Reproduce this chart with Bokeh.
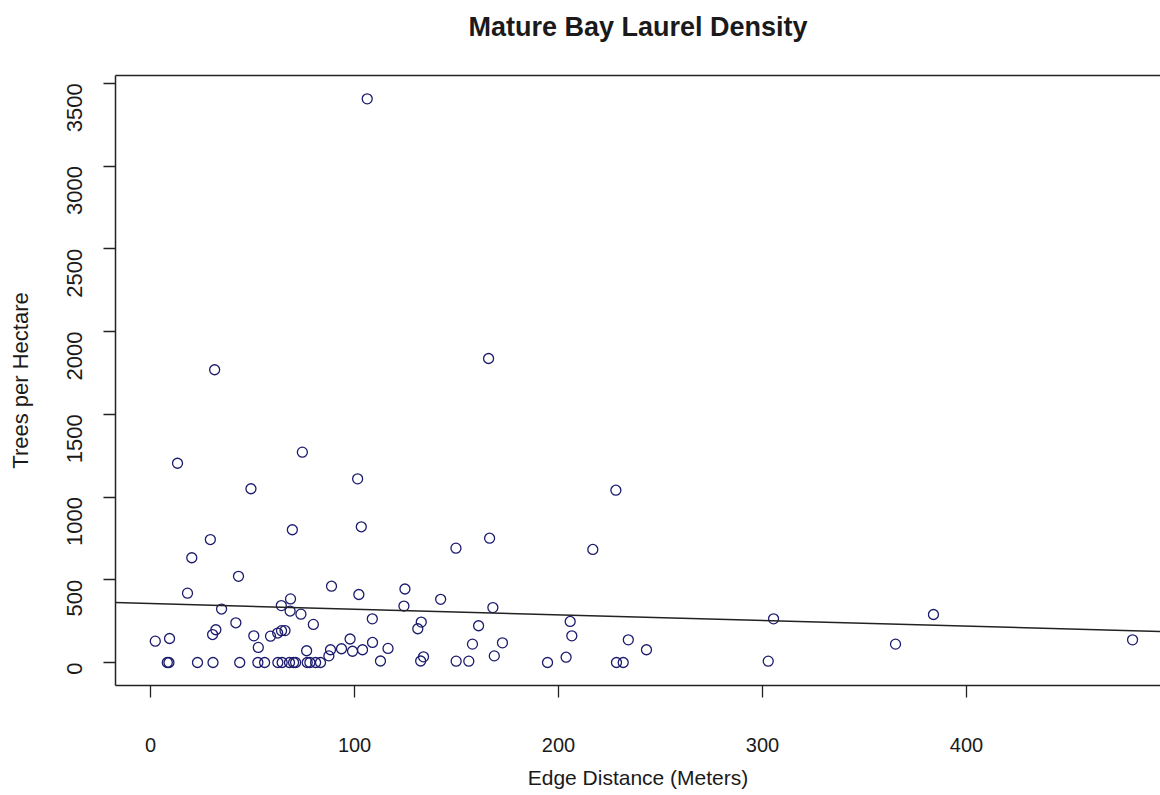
from bokeh.plotting import figure
from bokeh.models import LinearAxis, FixedTicker, Slope, Range1d, ColumnDataSource
from bokeh.embed import file_html
from bokeh.resources import INLINE
import math

# Edge distance (m) and mature bay laurel density (trees / ha)
edge_distance = [
    106.2, 165.7, 31.4, 74.4, 13.2, 101.5, 49.2, 228.1, 69.5, 103.3,
    29.3, 166.2, 149.7, 216.8, 20.2, 43.1, 88.7, 18.1, 124.7, 102.1,
    142.2, 68.6, 383.8, 34.8, 64.1, 124.2, 167.8, 305.4, 68.4, 73.7,
    108.7, 205.7, 79.8, 41.8, 160.8, 132.7, 131.0, 32.0, 30.4, 50.6,
    58.8, 62.3, 64.2, 65.9, 206.5, 2.3, 9.3, 52.8, 97.8, 108.8,
    157.8, 172.5, 365.2, 481.4, 234.2, 243.1, 93.6, 99.0, 103.9, 116.4,
    76.5, 88.2, 87.4, 133.8, 168.5, 203.7, 112.7, 132.4, 149.8, 156.0,
    194.6, 228.4, 231.7, 302.8,
    8.2, 9.0, 23.0, 30.6, 43.7, 52.6, 55.9, 62.4, 64.5, 68.1,
    70.1, 71.1, 76.8, 78.1, 80.9, 83.3,
]
trees_per_ha = [
    3406, 1837, 1769, 1271, 1204, 1110, 1050, 1041, 802, 820,
    743, 751, 691, 683, 633, 521, 461, 419, 444, 411,
    382, 384, 290, 323, 344, 341, 332, 264, 311, 292,
    264, 248, 230, 240, 222, 244, 204, 198, 169, 161,
    159, 178, 192, 193, 161, 129, 145, 91, 142, 121,
    111, 119, 111, 137, 137, 77, 83, 68, 77, 85,
    71, 77, 40, 34, 40, 32, 9, 9, 8, 8,
    0, 0, 0, 8,
    0, 0, 0, 0, 0, 0, 0, 0, 0, 0,
    0, 0, 0, 0, 0, 0,
]

# fitted regression line
fit_intercept = 356.0
fit_slope = -0.34

x_ticks = [0, 100, 200, 300, 400]
y_ticks = [0, 500, 1000, 1500, 2000, 2500, 3000, 3500]
title_text = "Mature Bay Laurel Density"

FONT = "Liberation Sans"
TXT = "#1a1a1a"

p = figure(width=1160, height=795, title=None,
           x_range=Range1d(-17.2, 495.1), y_range=Range1d(-139, 3547),
           output_backend="svg", toolbar_location=None,
           x_axis_location=None, y_axis_location=None,
           min_border_left=115, min_border_right=0,
           min_border_top=75, min_border_bottom=110)
p.outline_line_color = None
p.grid.visible = False
p.background_fill_color = "white"
p.border_fill_color = "white"

def style_axis(ax, tick_out, lab_stand, title_stand, lab_size, title_size):
    ax.axis_line_color = "#222222"
    ax.axis_line_width = 1.5
    ax.major_tick_line_color = "#222222"
    ax.major_tick_line_width = 1.3
    ax.major_tick_in = 0
    ax.major_tick_out = tick_out
    ax.minor_tick_line_color = None
    ax.minor_tick_in = 0
    ax.minor_tick_out = 0
    ax.major_label_text_font = FONT
    ax.major_label_text_font_size = lab_size
    ax.major_label_text_color = TXT
    ax.major_label_standoff = lab_stand
    ax.axis_label_text_font = FONT
    ax.axis_label_text_font_size = title_size
    ax.axis_label_text_font_style = "normal"
    ax.axis_label_text_color = TXT
    ax.axis_label_standoff = title_stand

xaxis = LinearAxis(ticker=FixedTicker(ticks=x_ticks), axis_label="Edge Distance (Meters)")
style_axis(xaxis, 12, 40, 11, "20px", "21px")
p.add_layout(xaxis, "below")

yaxis = LinearAxis(ticker=FixedTicker(ticks=y_ticks), axis_label="Trees per Hectare")
style_axis(yaxis, 12, 29, 24, "22px", "22px")
yaxis.major_label_orientation = math.pi / 2
p.add_layout(yaxis, "left")

# top frame line, carrying the chart title as its label
top = LinearAxis(ticker=FixedTicker(ticks=[]), axis_label=title_text)
style_axis(top, 0, 0, 34, "0px", "27px")
top.axis_label_text_font_style = "bold"
p.add_layout(top, "above")

src = ColumnDataSource(dict(x=edge_distance, y=trees_per_ha))
p.scatter("x", "y", source=src, marker="circle", size=10,
          fill_color=None, line_color="#1c1c6e", line_width=1.3)

p.add_layout(Slope(gradient=fit_slope, y_intercept=fit_intercept,
                   line_color="#222222", line_width=1.5))

open("out.html", "w").write(file_html(p, INLINE))
